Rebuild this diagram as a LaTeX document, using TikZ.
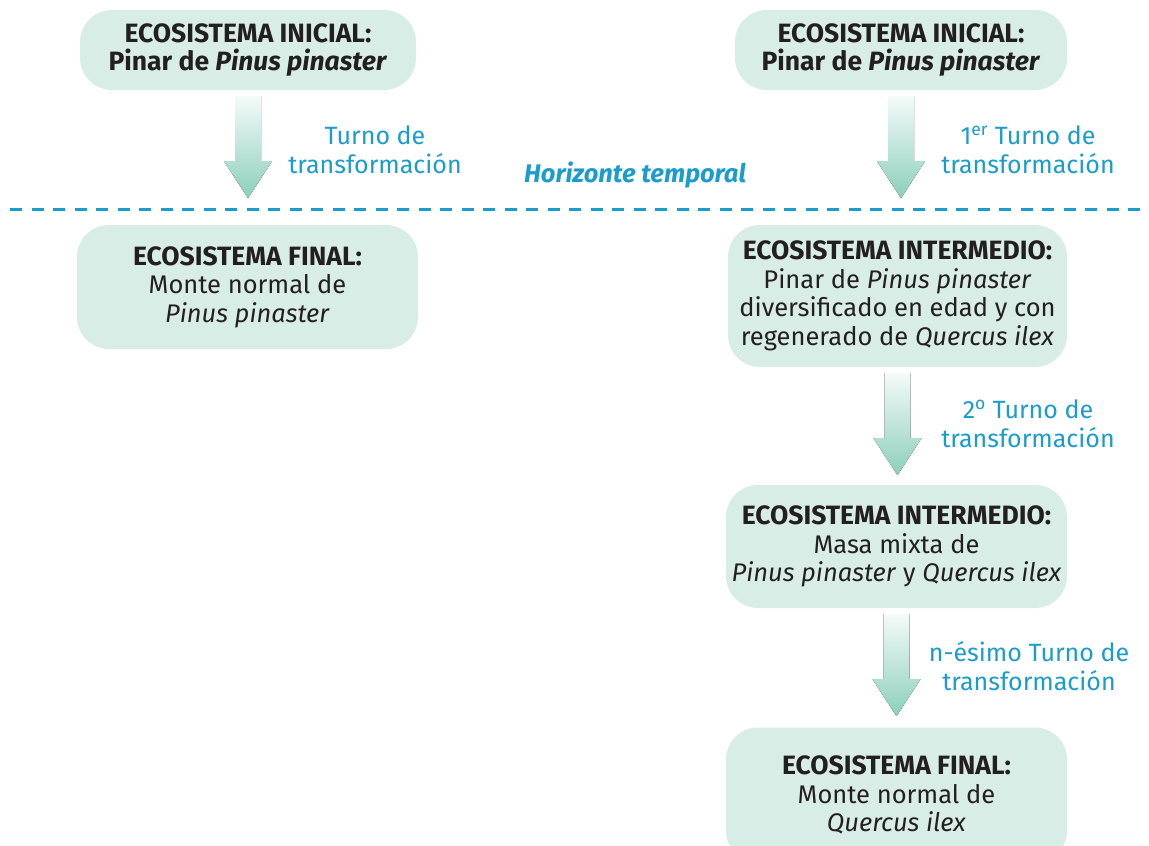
\documentclass[tikz,border=0pt]{standalone}
\usepackage{fontspec}
\setmainfont{Fira Sans}
\usetikzlibrary{calc}
\definecolor{caja}{HTML}{D8EDE5}
\definecolor{verde}{HTML}{8CCFBB}
\definecolor{azul}{HTML}{1A9CCC}
\definecolor{tinta}{HTML}{231F20}
\newcommand{\tit}[1]{{\fontsize{26.5}{28.5}\selectfont\bfseries #1}}
% flecha ancha bajo un ecosistema
\newcommand{\turno}[1]{%
  \fill[flecha] ($(#1.south)+(-13,6)$) -- ++(26,0) -- ++(0,65) -- ++(11,0) -- ++(-24,37) -- ++(-24,-37) -- ++(11,0) -- cycle;}
\begin{document}
\begin{tikzpicture}[x=1pt,y=-1pt,
	eco/.style={fill=caja,rounded corners=32pt,align=center,text=tinta,inner sep=4pt,
		font=\fontsize{25.5}{28.5}\selectfont},
	etiq/.style={align=center,text=azul,font=\fontsize{25}{28.5}\selectfont},
	flecha/.style={top color=verde!10,bottom color=verde,middle color=verde!55},
	horizonte/.style={azul,line width=3pt,dash pattern=on 12pt off 9.5pt}]
	\useasboundingbox (0,0) rectangle (1149,846);
	\clip (0,0) rectangle (1149,846);
	% columna izquierda
	\node[eco,minimum width=336,minimum height=80] (ini1) at (248,50) {\tit{ECOSISTEMA INICIAL:}\\\tit{Pinar de \textit{Pinus pinaster}}};
	\node[eco,minimum width=341,minimum height=124] (fin1) at (247.5,287) {\tit{ECOSISTEMA FINAL:}\\Monte normal de\\\textit{Pinus pinaster}};
	% columna derecha
	\node[eco,minimum width=332,minimum height=80] (ini2) at (901,50) {\tit{ECOSISTEMA INICIAL:}\\\tit{Pinar de \textit{Pinus pinaster}}};
	\node[eco,minimum width=339,minimum height=142] (int1) at (897.5,296) {\tit{ECOSISTEMA INTERMEDIO:}\\Pinar de \textit{Pinus pinaster}\\diversificado en edad y con\\regenerado de \textit{Quercus ilex}};
	\node[eco,minimum width=341,minimum height=123] (int2) at (896.5,546.5) {\tit{ECOSISTEMA INTERMEDIO:}\\Masa mixta de\\\textit{Pinus pinaster} y \textit{Quercus ilex}};
	\node[eco,minimum width=341,minimum height=135] (fin2) at (896.5,795) {\tit{ECOSISTEMA FINAL:}\\Monte normal de\\\textit{Quercus ilex}};
	% flechas de los turnos
	\turno{ini1}
	\turno{ini2}
	\turno{int1}
	\turno{int2}
	\node[etiq] (t1) at (375,150) {Turno de\\transformación};
	\node[etiq] (t2) at (1028,150) {1\textsuperscript{er} Turno de\\transformación};
	\node[etiq] (t3) at (1028,424) {2\textsuperscript{o} Turno de\\transformación};
	\node[etiq] (t4) at (1029,666) {n-ésimo Turno de\\transformación};
	% horizonte temporal
	\draw[horizonte] (10,209) -- (1149,209);
	\node[etiq,font=\fontsize{25.5}{28.5}\selectfont\bfseries\itshape] (hor) at (635,175) {Horizonte temporal};
\end{tikzpicture}
\end{document}
